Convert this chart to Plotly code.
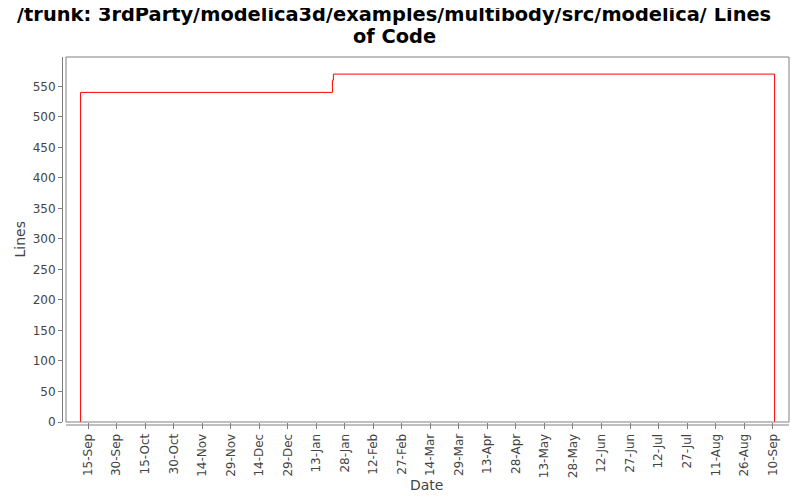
import plotly.graph_objects as go

# lines of code over time (step chart)
dates = ["2009-09-11 00:00", "2009-09-11 02:00", "2010-01-21 12:00",
         "2010-01-22 00:00", "2010-09-11 00:00"]
lines = [0, 540, 560, 570, 0]

title_lines = ["/trunk: 3rdParty/modelica3d/examples/multibody/src/modelica/ Lines",
               "of Code"]

fig = go.Figure(go.Scatter(
    x=dates, y=lines, mode="lines", line_shape="hv",
    line=dict(color="#ff0000", width=1), showlegend=False,
))

axis_font = dict(family="DejaVu Sans", size=12, color="#444444")
label_font = dict(family="DejaVu Sans", size=14, color="#444444")
title_font = dict(family="DejaVu Sans", size=19.4, color="black", weight="bold")
grey = "#808080"

# the page body has an 8px margin, so the figure is 792x492
fig.update_layout(
    width=792, height=492,
    margin=dict(l=58, r=11, t=49, b=78, autoexpand=False),
    paper_bgcolor="white", plot_bgcolor="white",
    xaxis=dict(
        type="date", automargin=False,
        range=["2009-09-03 10:00", "2010-09-18 14:00"],
        tick0="2009-09-15", dtick=15 * 86400000,
        tickformat="%d-%b", tickangle=-90,
        tickfont=axis_font, ticks="outside", ticklen=6, tickcolor=grey,
        showgrid=False, zeroline=False, showline=False,
    ),
    yaxis=dict(
        range=[0, 598], dtick=50, tick0=0, automargin=False,
        anchor="free", position=0, shift=-4,
        tickfont=axis_font, ticks="outside", ticklen=4, tickcolor=grey,
        showgrid=False, zeroline=False,
        showline=True, linecolor=grey,
    ),
    annotations=[
        dict(text=title_lines[0], xref="paper", yref="paper", x=0.4537, y=1,
             xanchor="center", yanchor="middle", yshift=43, showarrow=False,
             font=title_font),
        dict(text=title_lines[1], xref="paper", yref="paper", x=0.4537, y=1,
             xanchor="center", yanchor="middle", yshift=21, showarrow=False,
             font=title_font),
        dict(text="Date", xref="paper", yref="paper", x=0.498, y=0, yshift=-63,
             xanchor="center", yanchor="middle", showarrow=False, font=label_font),
        dict(text="Lines", xref="paper", yref="paper", x=0, y=0.5, xshift=-47,
             xanchor="center", yanchor="middle", textangle=-90, showarrow=False,
             font=label_font),
    ],
    shapes=[
        # plot border
        dict(type="rect", xref="paper", yref="paper", x0=0, x1=1, y0=0, y1=1,
             line=dict(color=grey, width=1), layer="above"),
        # detached x axis line
        dict(type="line", xref="paper", yref="paper", ysizemode="pixel", yanchor=0,
             x0=0, x1=1, y0=-3, y1=-3, line=dict(color=grey, width=1)),
    ],
)

fig.write_html("out.html")
